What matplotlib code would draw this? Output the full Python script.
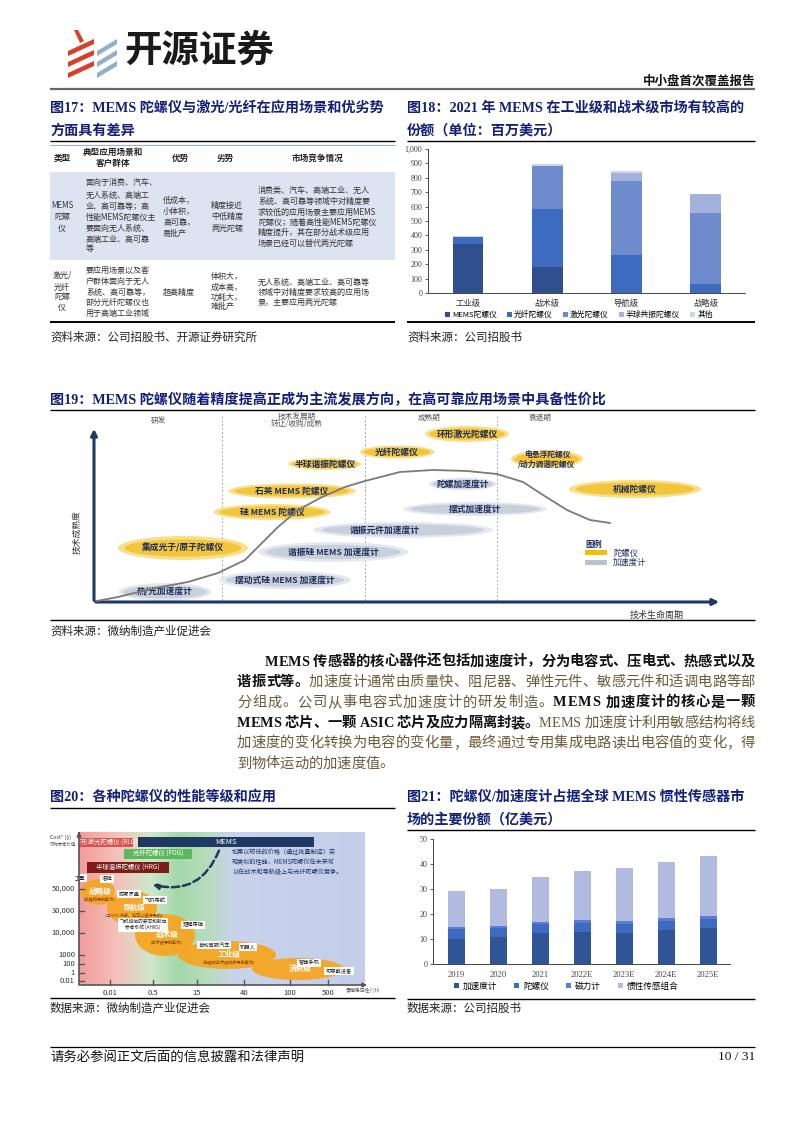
import numpy as np
import matplotlib
matplotlib.use("Agg")
import matplotlib.pyplot as plt
from matplotlib.patches import Rectangle, Ellipse, Polygon, FancyArrowPatch
from matplotlib.font_manager import FontProperties

plt.rcParams['font.family'] = ['Noto Sans CJK SC', 'DejaVu Sans']

SERIF = ['Liberation Serif', 'Noto Sans CJK SC']
NAVY = '#13207a'

# ---------------- 图18 数据 (百万美元) ----------------
grades = ['工业级', '战术级', '导航级', '战略级']
mems_gyro = [339, 180, 0, 0]
fog_gyro = [47, 404, 261, 60]
rlg_gyro = [0, 298, 520, 497]
hrg_gyro = [0, 0, 50, 129]
other_gyro = [11, 14, 17, 2]
gyro_names = ['MEMS陀螺仪', '光纤陀螺仪', '激光陀螺仪', '半球共振陀螺仪', '其他']
gyro_colors = ['#2f4f8f', '#3d6bbf', '#6e8bce', '#a3b1dc', '#cdd5ee']

# ---------------- 图21 数据 (亿美元) ----------------
years = ['2019', '2020', '2021', '2022E', '2023E', '2024E', '2025E']
accel = [9.9, 10.7, 12.3, 12.8, 12.6, 13.6, 14.6]
gyro = [4.1, 3.6, 3.7, 3.8, 3.4, 3.5, 3.4]
magnet = [0.7, 0.9, 1.0, 1.0, 1.4, 1.3, 1.3]
combo = [14.6, 14.7, 18.0, 19.7, 21.0, 22.5, 24.1]
sensor_names = ['加速度计', '陀螺仪', '磁力计', '惯性传感组合']
sensor_colors = ['#2f5597', '#3e6bc2', '#5b7fd0', '#b0bbdf']

fig = plt.figure(figsize=(7.94, 11.23), dpi=100)
pg = fig.add_axes([0, 0, 1, 1])
pg.axis('off')
renderer = fig.canvas.get_renderer()


def hline(y, x0, x1, lw=0.8, color='black'):
    pg.plot([x0, x1], [y, y], color=color, lw=lw, solid_capstyle='butt')


def txt(x, y, s, size=8, **kw):
    kw.setdefault('va', 'center')
    pg.text(x, y, s, fontsize=size, **kw)


def ax_at(x0, y0, x1, y1):
    return fig.add_axes([x0 / 794, 1 - y1 / 1123, (x1 - x0) / 794, (y1 - y0) / 1123])


def put_line(segs, x0, x1, y, size, justify=True):
    # segs: list of (text, bold, color)
    chars = []
    for s, b, c in segs:
        for ch in s:
            chars.append((ch, b, c))
    widths = []
    for ch, b, c in chars:
        fp = FontProperties(family=SERIF, size=size, weight='bold' if b else 'normal')
        w, h, d = renderer.get_text_width_height_descent(ch, fp, ismath=False)
        widths.append(w)
    gap = (x1 - x0 - sum(widths)) / (len(chars) - 1) if justify else 0.0
    x = x0
    for (ch, b, c), w in zip(chars, widths):
        pg.text(x, y, ch, fontsize=size, family=SERIF, weight='bold' if b else 'normal',
                color=c, ha='left', va='center')
        x += w + gap


# ---------------- 页眉 ----------------
for i in range(3):
    yb = 42 + i * 11
    pg.add_patch(Polygon([(68, yb + 9), (94, yb - 3), (94, yb + 2), (68, yb + 14)],
                         closed=True, color='#d9402b', lw=0))
    pg.add_patch(Polygon([(97, yb + 9), (117, yb - 3), (117, yb + 2), (97, yb + 14)],
                         closed=True, color='#8fb0c8', lw=0))
pg.add_patch(Polygon([(74, 30), (78, 30), (84, 41), (80, 43)], color='#d9402b', lw=0))
txt(124, 50, '开源证券', size=27, weight='bold', color='#1a1a1a', ha='left')
txt(755, 81, '中小盘首次覆盖报告', size=9, weight='bold', color='#111', ha='right')
hline(89, 50, 755, lw=1.6, color='#666666')

# ---------------- 图17 表格 ----------------
txt(50, 108, '图17：MEMS 陀螺仪与激光/光纤在应用场景和优劣势', size=10.2, family=SERIF,
    weight='bold', color=NAVY, ha='left')
txt(50, 131, '方面具有差异', size=10.2, family=SERIF, weight='bold', color=NAVY, ha='left')
hline(141, 50, 395, lw=1.0)
hline(145, 50, 395, lw=0.8, color='#9fb3d6')
pg.add_patch(Rectangle((50, 172), 345, 88, color='#dde4f1', lw=0))
hline(322, 50, 395, lw=1.4)

tsz = 5.8
hdr = [(62, ['类型']), (113, ['典型应用场景和', '客户群体']), (180, ['优势']),
       (225, ['劣势']), (318, ['市场竞争情况'])]
for x, ls in hdr:
    y0 = 158 - (len(ls) - 1) * 5.5
    for k, s in enumerate(ls):
        txt(x, y0 + k * 11, s, size=6.2, weight='bold', color='#222', ha='center')


def cell(x, ys, ls, ha='left'):
    for y, s in zip(ys, ls):
        txt(x, y, s, size=tsz, color='#333', ha=ha)


cell(62, [205, 216, 228], ['MEMS', '陀螺', '仪'], ha='center')
cell(86, [183, 195, 206, 217, 228, 239, 249],
     ['面向于消费、汽车、', '无人系统、高端工', '业、高可靠等；高', '性能MEMS陀螺仪主',
      '要面向无人系统、', '高端工业、高可靠', '等'])
cell(163, [200, 211, 222, 233], ['低成本，', '小体积，', '高可靠，', '易批产'])
cell(211, [205, 216, 228], ['精度接近', '中低精度', '两光陀螺'])
cell(258, [190, 201, 212, 222, 232, 243],
     ['消费类、汽车、高端工业、无人', '系统、高可靠等领域中对精度要', '求较低的应用场景主要应用MEMS',
      '陀螺仪；随着高性能MEMS陀螺仪', '精度提升，其在部分战术级应用', '场景已经可以替代两光陀螺'])
cell(62, [275, 287, 297, 307], ['激光/', '光纤', '陀螺', '仪'], ha='center')
cell(86, [270, 281, 292, 302, 313],
     ['要应用场景以及客', '户群体面向于无人', '系统、高可靠等，', '部分光纤陀螺仪也', '用于高端工业领域'])
cell(163, [292], ['超高精度'])
cell(211, [277, 287, 297, 307], ['体积大，', '成本高，', '功耗大，', '难批产'])
cell(258, [282, 292, 302],
     ['无人系统、高端工业、高可靠等', '领域中对精度要求较高的应用场', '景，主要应用两光陀螺'])
txt(50, 337, '资料来源：公司招股书、开源证券研究所', size=8.3, color='#222', ha='left')

# ---------------- 图18 ----------------
txt(407, 108, '图18：2021 年 MEMS 在工业级和战术级市场有较高的', size=10.2, family=SERIF,
    weight='bold', color=NAVY, ha='left')
txt(407, 131, '份额（单位：百万美元）', size=10.2, family=SERIF, weight='bold', color=NAVY, ha='left')
hline(141, 407, 755, lw=1.0)
hline(322, 407, 755, lw=1.4)
txt(407, 337, '资料来源：公司招股书', size=8.3, color='#222', ha='left')

ax18 = ax_at(428, 149, 745, 293)
x18 = np.arange(len(grades))
bottom = np.zeros(len(grades))
handles = []
for vals, name, col in zip([mems_gyro, fog_gyro, rlg_gyro, hrg_gyro, other_gyro], gyro_names, gyro_colors):
    h = ax18.bar(x18, vals, width=0.39, bottom=bottom, color=col, label=name, edgecolor='none')
    bottom += np.array(vals)
    handles.append(h)
ax18.set_ylim(0, 1000)
ax18.set_xlim(-0.506, 3.5)
ax18.set_yticks(np.arange(0, 1001, 100))
ax18.set_yticklabels(['{:,}'.format(v) for v in range(0, 1001, 100)], family=SERIF, fontsize=5.8, color='#444')
ax18.set_xticks(x18)
ax18.set_xticklabels(grades, fontsize=6.0, color='#333')
for s in ['top', 'right']:
    ax18.spines[s].set_visible(False)
for s in ['left', 'bottom']:
    ax18.spines[s].set_color('#444')
    ax18.spines[s].set_linewidth(0.7)
ax18.tick_params(axis='x', length=0, pad=4)
ax18.tick_params(axis='y', length=2, width=0.6, pad=2, color='#444')
ax18.legend(handles, gyro_names, loc='center', bbox_to_anchor=(579 / 794, 1 - 315 / 1123),
            bbox_transform=fig.transFigure, ncol=5, frameon=False, fontsize=5.6,
            handlelength=0.6, handleheight=0.6, handletextpad=0.3, columnspacing=1.3)

# ---------------- 图19 ----------------
txt(50, 400, '图19：MEMS 陀螺仪随着精度提高正成为主流发展方向，在高可靠应用场景中具备性价比',
    size=10.2, family=SERIF, weight='bold', color=NAVY, ha='left')
hline(410, 50, 755, lw=1.0)
hline(620, 50, 755, lw=1.0)
txt(50, 631, '资料来源：微纳制造产业促进会', size=8.3, color='#222', ha='left')

for xv in [222, 365, 497]:
    pg.plot([xv, xv], [416, 602], color='#aaaaaa', lw=0.7, ls=(0, (2, 2)))
txt(158, 421, '研发', size=5.5, color='#555', ha='center')
txt(297, 417, '技术发展期', size=5.5, color='#555', ha='center')
txt(297, 424, '转让/收购/成熟', size=5.5, color='#555', ha='center')
txt(429, 418, '成熟期', size=5.5, color='#555', ha='center')
txt(540, 418, '衰退期', size=5.5, color='#555', ha='center')

gray_items = [
    ('热/光加速度计', 165, 592, 93, 18),
    ('摆动式硅 MEMS 加速度计', 285, 580, 132, 18),
    ('谐振硅 MEMS 加速度计', 333, 552, 150, 20),
    ('谐振元件加速度计', 403, 530, 180, 16),
    ('摆式加速度计', 475, 509, 144, 14),
    ('陀螺加速度计', 463, 484, 68, 13),
]
gold_items = [
    ('集成光子/原子陀螺仪', 183, 548, 130, 24),
    ('硅 MEMS 陀螺仪', 272, 512, 117, 16),
    ('石英 MEMS 陀螺仪', 292, 491, 128, 15),
    ('半球谐振陀螺仪', 325, 464, 73, 12),
    ('光纤陀螺仪', 397, 452, 75, 13),
    ('环形激光陀螺仪', 467, 434, 84, 16),
    ('电悬浮陀螺仪\n/动力调谐陀螺仪', 547, 459, 72, 18),
    ('机械陀螺仪', 635, 489, 132, 18),
]
label_offset = {'谐振元件加速度计': -18}
for lab, cx, cy, w, h in gray_items:
    pg.add_patch(Ellipse((cx, cy), w, h, color='#e4e9ef', lw=0, zorder=2))
    pg.add_patch(Ellipse((cx, cy), w * 0.9, h * 0.72, color='#c8d1db', lw=0, zorder=2))
    txt(cx + label_offset.get(lab, 0), cy, lab, size=6.3, weight='bold', color='#1f2f5a',
        ha='center', zorder=4)
for lab, cx, cy, w, h in gold_items:
    pg.add_patch(Ellipse((cx, cy), w, h, color='#f8e08a', lw=0, zorder=3))
    pg.add_patch(Ellipse((cx, cy), w * 0.9, h * 0.72, color='#f2c53d', lw=0, zorder=3))
    txt(cx, cy, lab, size=6.3 if '\n' not in lab else 5.6, weight='bold', color='#1f2f5a',
        ha='center', zorder=4, linespacing=1.0)

curve_x = [97, 118, 155, 188, 218, 245, 262, 278, 298, 322, 345, 365, 400, 433, 467, 497,
           523, 543, 567, 590, 610]
curve_y = [601, 597, 588, 582, 573, 560, 543, 527, 510, 497, 487, 481, 472, 470, 471, 474,
           482, 495, 510, 520, 523]
pg.plot(curve_x, curve_y, color='#7a7a7a', lw=1.3, zorder=5)

pg.annotate('', xy=(94, 426), xytext=(94, 603),
            arrowprops=dict(arrowstyle='-|>', color='#1f3864', lw=2.2, mutation_scale=9))
pg.annotate('', xy=(722, 602), xytext=(93, 602),
            arrowprops=dict(arrowstyle='-|>', color='#1f3864', lw=2.2, mutation_scale=9))
txt(77, 532, '技术成熟度', size=6.3, color='#333', ha='center', rotation=90)
txt(657, 615, '技术生命周期', size=6.5, color='#333', ha='center')
txt(585, 544, '图例', size=6, weight='bold', color='#1f2f5a', ha='left')
pg.add_patch(Rectangle((585, 550), 22, 5, color='#f5be00', lw=0))
pg.add_patch(Rectangle((585, 560), 22, 5, color='#b8c2cc', lw=0))
txt(613, 553, '陀螺仪', size=6, color='#1f2f5a', ha='left')
txt(613, 562, '加速度计', size=6, color='#1f2f5a', ha='left')

# ---------------- 正文 ----------------
BLK = '#111111'
BRN = '#6b5a3a'
para = [
    [('MEMS 传感器的核心器件还包括加速度计，分为电容式、压电式、热感式以及', True, BLK)],
    [('谐振式等。', True, BLK), ('加速度计通常由质量快、阻尼器、弹性元件、敏感元件和适调电路等部', False, BRN)],
    [('分组成。公司从事电容式加速度计的研发制造。', False, BRN), ('MEMS 加速度计的核心是一颗', True, BLK)],
    [('MEMS 芯片、一颗 ASIC 芯片及应力隔离封装。', True, BLK), ('MEMS 加速度计利用敏感结构将线', False, BRN)],
    [('加速度的变化转换为电容的变化量，最终通过专用集成电路读出电容值的变化，得', False, BRN)],
    [('到物体运动的加速度值。', False, BRN)],
]
for i, segs in enumerate(para):
    x0 = 265 if i == 0 else 237
    put_line(segs, x0, 755, 662 + i * 20.4, 10.3, justify=(i < len(para) - 1))

# ---------------- 图20 ----------------
txt(50, 797, '图20：各种陀螺仪的性能等级和应用', size=10.2, family=SERIF, weight='bold',
    color=NAVY, ha='left')
hline(808, 50, 395, lw=1.0)
hline(998, 50, 395, lw=1.0)
txt(50, 1008, '数据来源：微纳制造产业促进会', size=8.3, color='#222', ha='left')

stop_x = [79, 118, 150, 178, 205, 235, 365]
stop_c = ['#f29b9b', '#f5c2bc', '#cfe8c9', '#a4d8aa', '#b6dcba', '#c9d3ec', '#c4cee9']
gx = np.linspace(79, 365, 300)
rgb = np.array([matplotlib.colors.to_rgb(c) for c in stop_c])
grad = np.stack([np.interp(gx, stop_x, rgb[:, k]) for k in range(3)], axis=-1)[None, :, :]
pg.imshow(grad, extent=(79, 365, 985, 832), aspect='auto', zorder=1)

bars20 = [('环形激光陀螺仪 (RLG)', 79, 838, 54, 9, '#d9534f', 'white'),
          ('MEMS', 138, 837, 176, 10, '#1f3864', 'white'),
          ('光纤陀螺仪 (FOG)', 124, 849, 68, 10, '#5cb85c', 'white'),
          ('半球谐振陀螺仪 (HRG)', 87, 862, 82, 11, '#7a1d16', 'white')]
for lab, x, y, w, h, fc, tc in bars20:
    pg.add_patch(Rectangle((x, y), w, h, color=fc, lw=0, zorder=3))
    txt(x + w / 2, y + h / 2, lab, size=4.6 if lab != 'MEMS' else 5.5, color=tc, ha='center', zorder=4)
pg.add_patch(FancyArrowPatch((220, 848), (150, 884), connectionstyle='arc3,rad=-0.45',
                             arrowstyle='-|>', mutation_scale=8, color='#1f3864', lw=1.8,
                             ls=(0, (3, 1.5)), zorder=4))
txt(232, 862, '如果以较低的价格（通过批量制造）实\n现类似的性能，MEMS陀螺仪在未来可\n以在战术和导航级上与光纤陀螺仪竞争。',
    size=4.4, color='#1f3864', ha='left', linespacing=1.3, zorder=4)

ell20 = [('战略级', '(战略和导航能力)', 98, 892, 34, 26),
         ('导航级', '(与GPS 冲断，也可以进行导航)', 132, 908, 50, 34),
         ('战术级', '(战术级导航能力)', 165, 935, 60, 42),
         ('工业级', '(低级别战术级别的导航能力)', 227, 955, 98, 28),
         ('消费级', '', 298, 969, 92, 22)]
for lab, sub, cx, cy, w, h in ell20:
    pg.add_patch(Ellipse((cx, cy), w, h, color='#f6a623', lw=0, zorder=3, alpha=0.95))
    txt(cx + 2, cy - (1 if sub else 0), lab, size=5.5, weight='bold', color='white', ha='center', zorder=6)
    if sub:
        txt(cx + 2, cy + 7, sub, size=3.0, color='#7a3a00', ha='center', zorder=6)
tags20 = [('卫星', 80, 878), ('潜艇', 107, 879), ('陀螺罗盘', 129, 894), ('飞机导航', 155, 900),
          ('飞机船舶的姿态和航向\n参考系统 (AHRS)', 143, 925), ('短程导弹', 193, 925),
          ('自动驾驶汽车', 214, 945), ('机器人', 248, 947), ('智能手机', 309, 963),
          ('可穿戴设备', 339, 971)]
for lab, cx, cy in tags20:
    pg.text(cx, cy, lab, fontsize=3.4 if '\n' in lab else 3.8, ha='center', va='center',
            color='#222', zorder=5, linespacing=1.0,
            bbox=dict(boxstyle='square,pad=0.3', fc='white', ec='none'))

pg.plot([79, 79], [985, 834], color='#555', lw=1.2, zorder=5)
pg.annotate('', xy=(370, 985), xytext=(78, 985),
            arrowprops=dict(arrowstyle='-|>', color='#555', lw=1.2, mutation_scale=6), zorder=5)
pg.annotate('', xy=(79, 829), xytext=(79, 836),
            arrowprops=dict(arrowstyle='-|>', color='#555', lw=1.2, mutation_scale=6), zorder=5)
ytk20 = [('50,000', 889), ('30,000', 911), ('10,000', 933), ('1000', 955), ('100', 964),
         ('1', 973), ('0.01', 981)]
for lab, y in ytk20:
    pg.plot([79, 84], [y, y], color='#555', lw=1.0, zorder=5)
    txt(75, y, lab, size=5.5, color='#333', ha='right')
xtk20 = [('0.01', 110), ('0.5', 153), ('15', 197), ('40', 244), ('100', 290), ('500', 328)]
for lab, x in xtk20:
    pg.plot([x, x], [980, 985], color='#555', lw=1.0, zorder=5)
    txt(x, 993, lab, size=5.5, color='#333', ha='center')
txt(50, 837, 'Cost* ($)', size=3.8, color='#333', ha='left')
txt(50, 844, '仅作参考价值', size=3.2, color='#555', ha='left', style='italic')
txt(380, 990, '零偏稳定性(°/h)', size=3.5, color='#555', ha='right')

# ---------------- 图21 ----------------
txt(407, 797, '图21：陀螺仪/加速度计占据全球 MEMS 惯性传感器市', size=10.2, family=SERIF,
    weight='bold', color=NAVY, ha='left')
txt(407, 820, '场的主要份额（亿美元）', size=10.2, family=SERIF, weight='bold', color=NAVY, ha='left')
hline(830, 407, 755, lw=1.0)
hline(999, 407, 755, lw=1.0)
txt(407, 1008, '数据来源：公司招股书', size=8.3, color='#222', ha='left')

ax21 = ax_at(433, 839, 730, 964)
x21 = np.arange(len(years))
bottom = np.zeros(len(years))
handles = []
for vals, name, col in zip([accel, gyro, magnet, combo], sensor_names, sensor_colors):
    h = ax21.bar(x21, vals, width=0.4, bottom=bottom, color=col, label=name, edgecolor='none')
    bottom += np.array(vals)
    handles.append(h)
ax21.set_ylim(0, 50)
ax21.set_xlim(-0.55, 6.52)
ax21.set_yticks(np.arange(0, 51, 10))
ax21.set_yticklabels([str(v) for v in range(0, 51, 10)], family=SERIF, fontsize=5.8, color='#444')
ax21.set_xticks(x21)
ax21.set_xticklabels(years, family=SERIF, fontsize=6.2, color='#444')
for s in ['top', 'right']:
    ax21.spines[s].set_visible(False)
for s in ['left', 'bottom']:
    ax21.spines[s].set_color('#444')
    ax21.spines[s].set_linewidth(0.7)
ax21.tick_params(axis='x', length=0, pad=5)
ax21.tick_params(axis='y', length=2, width=0.6, pad=2, color='#444')
ax21.legend(handles, sensor_names, loc='center', bbox_to_anchor=(566 / 794, 1 - 986 / 1123),
            bbox_transform=fig.transFigure, ncol=4, frameon=False, fontsize=6.2,
            handlelength=0.6, handleheight=0.6, handletextpad=0.4, columnspacing=2.0)

# ---------------- 页脚 ----------------
hline(1047, 50, 755, lw=0.9)
txt(50, 1057, '请务必参阅正文后面的信息披露和法律声明', size=9.6, color='#111', ha='left')
txt(755, 1057, '10 / 31', size=9.6, family=SERIF, color='#111', ha='right')

pg.set_xlim(0, 794)
pg.set_ylim(1123, 0)
fig.savefig('out.png', dpi=100)
